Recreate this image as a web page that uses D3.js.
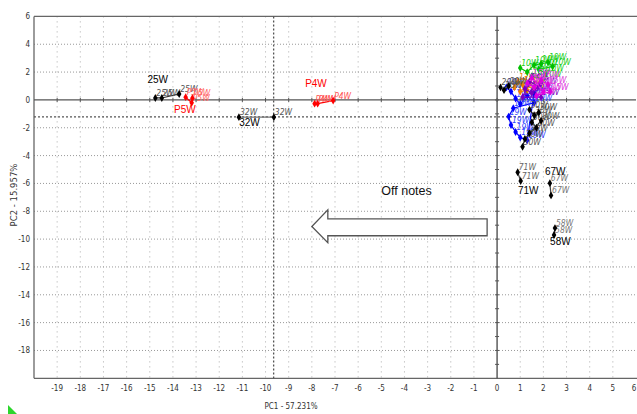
<!DOCTYPE html>
<html>
<head>
<meta charset="utf-8">
<script src="https://cdn.jsdelivr.net/npm/d3@7"></script>
<style>
  body { margin: 0; background: #fff; }
  svg { display: block; }
  .tick-lbl { font-family: "Liberation Sans Narrow", "DejaVu Sans Condensed", "Arial Narrow", sans-serif; font-stretch: condensed; font-size: 8px; fill: #333; }
  .small-lbl { font-family: "Liberation Sans Narrow", "DejaVu Sans Condensed", sans-serif; font-stretch: condensed; font-size: 8.5px; font-style: italic; }
  .big-lbl { font-family: "Liberation Sans", Arial, sans-serif; font-size: 10px; }
</style>
</head>
<body>
<div id="chart"></div>
<script>
//// DATA

const X_TICKS = d3.range(-19, 7);
const Y_TICKS = [6, 4, 2, 0, -2, -4, -6, -8, -10, -12, -14, -16, -18];
const X_TITLE = "PC1 - 57.231%";
const Y_TITLE = "PC2 - 15.957%";

// reference lines (dashed)
const MEAN_X = -9.65;
const MEAN_Y = -1.22;

// sample groups: points [pc1, pc2]
const g25W = [[-14.76, 0.14], [-14.48, 0.14], [-13.73, 0.43]];
const gP5W = [[-13.45, 0.2], [-13.19, -0.2], [-13.16, 0.12]];
const g32W = [[-11.15, -1.24], [-9.64, -1.24]];
const gP4W = [[-7.88, -0.27], [-7.75, -0.27], [-7.08, -0.05]];
const g71W = [[0.89, -5.2], [1.02, -5.83]];
const g67W = [[2.28, -5.98], [2.33, -6.86]];
const g58W = [[2.5, -9.21], [2.46, -9.7]];

const gGreen = [[1.0, 2.3], [1.3, 2.0], [1.6, 2.5], [1.9, 2.6], [2.2, 2.7], [2.4, 2.4], [1.8, 2.2], [2.1, 1.9], [1.5, 1.7], [2.0, 1.5]];
const gMagenta = [[1.3, 1.2], [1.6, 0.9], [1.9, 1.4], [2.2, 1.1], [2.3, 0.6], [1.7, 0.3], [2.0, 0.6], [1.5, 1.6]];
const gPurple = [[1.2, 0.8], [1.5, 0.5], [1.8, 1.0], [1.4, 1.3], [1.1, 0.2], [1.9, 0.2]];
const gOrange = [[0.75, 0.9], [0.9, 1.3], [1.1, 1.1], [1.3, 0.7], [1.0, 0.6]];
const gBlue = [[0.4, 0.9], [0.6, 0.6], [0.8, 0.1], [1.0, -0.3], [1.3, 0.3], [1.6, -0.2], [0.7, -0.6], [0.5, -1.2], [0.6, -1.8], [0.8, -2.3], [1.0, -2.7], [1.3, -2.9], [1.6, 0.5]];
const g20W = [[0.15, 0.9], [0.3, 0.7], [0.5, 1.0]];
const g30W = [[1.4, -0.7], [1.6, -1.1], [1.8, -0.9], [1.5, -1.6], [1.7, -2.0], [1.4, -2.4], [1.9, -1.5], [1.2, -2.8], [1.1, -3.37]];

// big labels [text, pc1, pc2, colour]
const BIG_LABELS = [
  ["25W", -15.1, 1.22, "#000"],
  ["P5W", -13.95, -0.93, "#f00"],
  ["32W", -11.14, -1.87, "#000"],
  ["P4W", -8.29, 0.93, "#f00"],
  ["71W", 0.9, -6.75, "#000"],
  ["67W", 2.07, -5.38, "#000"],
  ["58W", 2.29, -10.4, "#000"],
];

// block arrow outline in data units
const ARROW = [[-0.43, -8.54], [-7.31, -8.54], [-7.31, -7.9], [-8.0, -9.1], [-7.31, -10.26], [-7.31, -9.76], [-0.43, -9.76]];
const NOTE = ["Off notes", -5.0, -6.82];

//////////////
const W = 637, H = 414;
const x = d3.scaleLinear().domain([-20, 6]).range([34, 636]);
const y = d3.scaleLinear().domain([-20, 6]).range([378.3, 16.4]);

const GROUPS = [
  { pts: g25W, color: "#000", line: "#333", lbl: "25W", lblColor: "#555" },
  { pts: gP5W, color: "#f00", line: "#f00", lbl: "P5W", lblColor: "#f66" },
  { pts: g32W, color: "#000", line: "#777", lbl: "32W", lblColor: "#555" },
  { pts: gP4W, color: "#f00", line: "#f00", lbl: "P4W", lblColor: "#f55" },
  { pts: g71W, color: "#000", line: "#444", lbl: "71W", lblColor: "#666" },
  { pts: g67W, color: "#000", line: "#444", lbl: "67W", lblColor: "#777" },
  { pts: g58W, color: "#000", line: "#444", lbl: "58W", lblColor: "#777" },
  { pts: gBlue, color: "#0000ff", line: "#0000ff", lbl: "19W", lblColor: "#3344ff" },
  { pts: g30W, color: "#000", line: "#222", lbl: "30W", lblColor: "#555" },
  { pts: gOrange, color: "#f08000", line: "#f08000", lbl: "12W", lblColor: "#f08000" },
  { pts: gGreen, color: "#00c000", line: "#00c000", lbl: "10W", lblColor: "#20d020" },
  { pts: gPurple, color: "#7a00c0", line: "#7a00c0", lbl: "14W", lblColor: "#7a00c0" },
  { pts: gMagenta, color: "#e000e0", line: "#e000e0", lbl: "15W", lblColor: "#e040e0" },
  { pts: g20W, color: "#000", line: "#222", lbl: "20W", lblColor: "#555" },
];

const svg = d3.select("#chart").append("svg")
  .attr("width", W).attr("height", H)
  .style("background", "#fff");

const [x0, x1] = x.range();
const [yb, yt] = y.range();

//// GRID
const grid = svg.append("g").attr("class", "grid");
grid.selectAll(".vgrid").data(X_TICKS.filter(d => d !== 0 && d < 6)).enter()
  .append("line")
  .attr("x1", d => x(d)).attr("x2", d => x(d))
  .attr("y1", yt).attr("y2", yb)
  .attr("stroke", "#aaa").attr("stroke-width", 1)
  .attr("stroke-dasharray", "1,4");
grid.selectAll(".hgrid").data(Y_TICKS.filter(d => d !== 0 && d !== 6)).enter()
  .append("line")
  .attr("x1", x0).attr("x2", x1)
  .attr("y1", d => y(d)).attr("y2", d => y(d))
  .attr("stroke", "#999").attr("stroke-width", 1)
  .attr("stroke-dasharray", "1,2");

//// FRAME
const frame = svg.append("g").attr("stroke", "#666").attr("stroke-width", 1.3);
frame.append("line").attr("x1", x0).attr("x2", W).attr("y1", yt).attr("y2", yt);
frame.append("line").attr("x1", x0).attr("x2", x0).attr("y1", yt).attr("y2", yb);
frame.append("line").attr("x1", x0).attr("x2", W).attr("y1", yb).attr("y2", yb);

// zero axes
svg.append("line")
  .attr("x1", x0).attr("x2", x1).attr("y1", y(0)).attr("y2", y(0))
  .attr("stroke", "#555").attr("stroke-width", 1.3);
svg.append("line")
  .attr("x1", x(0)).attr("x2", x(0)).attr("y1", yt).attr("y2", yb)
  .attr("stroke", "#444").attr("stroke-width", 1.3);

svg.append("g").selectAll("line").data(d3.range(-19, 6)).enter()
  .append("line")
  .attr("x1", d => x(d)).attr("x2", d => x(d))
  .attr("y1", y(0) - 2).attr("y2", y(0) + 2)
  .attr("stroke", "#555");
svg.append("g").selectAll("line").data(d3.range(-19, 6)).enter()
  .append("line")
  .attr("x1", x(0) - 2).attr("x2", x(0) + 2)
  .attr("y1", d => y(d)).attr("y2", d => y(d))
  .attr("stroke", "#555");

// dashed reference lines
svg.append("line")
  .attr("x1", x0).attr("x2", x1).attr("y1", y(MEAN_Y)).attr("y2", y(MEAN_Y))
  .attr("stroke", "#555").attr("stroke-width", 1.3).attr("stroke-dasharray", "2,2");
svg.append("line")
  .attr("x1", x(MEAN_X)).attr("x2", x(MEAN_X)).attr("y1", yt).attr("y2", yb)
  .attr("stroke", "#555").attr("stroke-width", 1.3).attr("stroke-dasharray", "2,2");

//// TICK LABELS
svg.append("g").selectAll("text").data(X_TICKS).enter()
  .append("text")
  .attr("class", "tick-lbl")
  .attr("x", d => x(d) - (d === 6 ? 2 : 0))
  .attr("y", 391)
  .attr("text-anchor", "middle")
  .text(d => d);
svg.append("g").selectAll("text").data(Y_TICKS).enter()
  .append("text")
  .attr("class", "tick-lbl")
  .attr("x", 30)
  .attr("y", d => y(d) + 3)
  .attr("text-anchor", "end")
  .text(d => d);

svg.append("text").attr("class", "tick-lbl")
  .attr("x", 291).attr("y", 409)
  .attr("text-anchor", "middle").text(X_TITLE);
svg.append("text")
  .attr("transform", `translate(17,195) rotate(-90)`)
  .attr("text-anchor", "middle")
  .style("font-family", "DejaVu Sans, sans-serif")
  .style("font-size", "8.5px")
  .attr("fill", "#333")
  .text(Y_TITLE);

//// SAMPLES
const line = d3.line().x(d => x(d[0])).y(d => y(d[1]));
const diamond = d3.symbol().type(d3.symbolDiamond).size(18);

GROUPS.forEach(grp => {
  const g = svg.append("g");
  g.append("path")
    .attr("d", line(grp.pts))
    .attr("fill", "none")
    .attr("stroke", grp.line)
    .attr("stroke-width", 1.2);
  g.selectAll("text").data(grp.pts).enter()
    .append("text")
    .attr("class", "small-lbl")
    .attr("x", d => x(d[0]) + 1)
    .attr("y", d => y(d[1]) - 2)
    .attr("fill", grp.lblColor)
    .text(grp.lbl);
  g.selectAll("path.pt").data(grp.pts).enter()
    .append("path")
    .attr("class", "pt")
    .attr("d", diamond)
    .attr("transform", d => `translate(${x(d[0])},${y(d[1])})`)
    .attr("fill", grp.color);
});

svg.append("g").selectAll("text").data(BIG_LABELS).enter()
  .append("text")
  .attr("class", "big-lbl")
  .attr("x", d => x(d[1]))
  .attr("y", d => y(d[2]))
  .attr("fill", d => d[3])
  .text(d => d[0]);

//// ANNOTATION
svg.append("path")
  .attr("d", d3.line().x(d => x(d[0])).y(d => y(d[1]))(ARROW) + "Z")
  .attr("fill", "#fff")
  .attr("stroke", "#555")
  .attr("stroke-width", 1.3);
svg.append("text")
  .attr("x", x(NOTE[1])).attr("y", y(NOTE[2]))
  .style("font-family", "Liberation Sans, Arial, sans-serif")
  .style("font-size", "12.5px")
  .attr("fill", "#111")
  .text(NOTE[0]);

// small green corner marker
svg.append("path")
  .attr("d", "M8,405 L8,414 L17,414 Z")
  .attr("fill", "#2cd62c");
</script>
</body>
</html>
